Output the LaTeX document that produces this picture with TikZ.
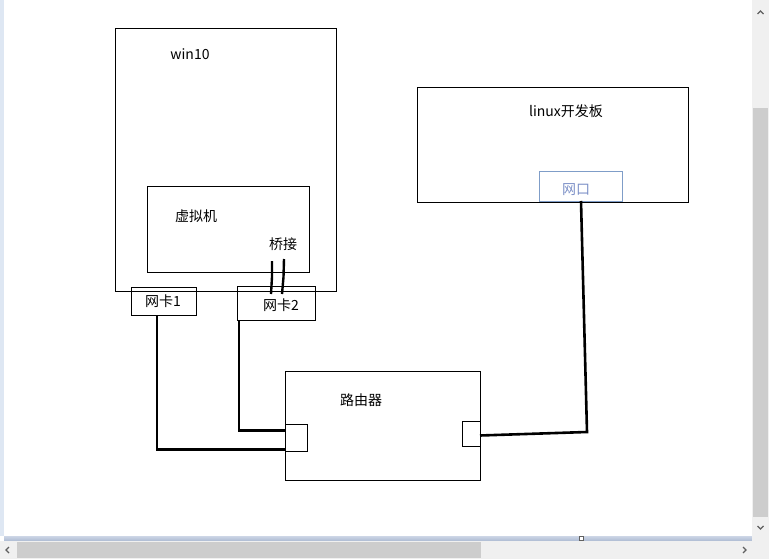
\documentclass[tikz,border=0pt]{standalone}
\usepackage{fontspec}
\setmainfont{Noto Sans CJK SC}
\usetikzlibrary{calc}
\definecolor{portblue}{RGB}{127,157,200}
\definecolor{porttext}{RGB}{125,145,200}
\definecolor{sbbg}{RGB}{240,240,240}
\definecolor{sbthumb}{RGB}{205,205,205}
\definecolor{sbarrow}{RGB}{96,96,96}
\definecolor{edgeblue}{RGB}{222,231,243}
\definecolor{bandtop}{RGB}{205,214,230}
\definecolor{bandbot}{RGB}{172,186,210}
\tikzset{
  box/.style={draw=black, line width=0.9pt, fill=white, inner sep=0pt, outer sep=0pt},
  openbox/.style={draw=black, line width=0.9pt, inner sep=0pt, outer sep=0pt},
  wire/.style={draw=black, line width=2.6pt},
  lbl/.style={inner sep=0pt, font=\fontsize{14}{16}\selectfont},
  arrowglyph/.style={draw=sbarrow, line width=1.2pt}
}
\begin{document}
\begin{tikzpicture}[x=1pt,y=-1pt]
\useasboundingbox (0,0) rectangle (769,559);
% canvas
\fill[white] (0,0) rectangle (769,559);
\fill[edgeblue] (0,0) rectangle (4,536);
% main boxes
\node[box, minimum width=221pt, minimum height=263pt] (win) at (225.5,159.5) {};
\node[box, minimum width=162pt, minimum height=86pt] (vm) at (228,229) {};
\node[openbox, minimum width=65pt, minimum height=28pt] (nicA) at (163.5,301) {};
\node[openbox, minimum width=78pt, minimum height=34pt] (nicB) at (276.5,303) {};
\node[box, minimum width=195pt, minimum height=109pt] (router) at (382.5,425.5) {};
\node[box, minimum width=22pt, minimum height=27pt] (lport) at (296,437.5) {};
\node[box, minimum width=18pt, minimum height=25pt] (rport) at (471,433.5) {};
\node[box, minimum width=271pt, minimum height=115pt] (linux) at (552.5,144.5) {};
\node[box, draw=portblue, minimum width=83pt, minimum height=30pt] (eth) at (580.5,186) {};
% labels
\node[lbl] (tWin) at (190,54) {win10};
\node[lbl] (tVm) at (196,216) {虚拟机};
\node[lbl] (tBridge) at (283,244) {桥接};
\node[lbl] (tNicA) at (163,301) {网卡1};
\node[lbl] (tNicB) at (281,305) {网卡2};
\node[lbl] (tRouter) at (361,400) {路由器};
\node[lbl] (tLinux) at (566,111) {linux开发板};
\node[lbl, text=porttext] (tEth) at (576,190) {网口};
% bridge wires
\coordinate (b1) at (272,261);
\coordinate (b2) at (284,259);
\draw[wire, line width=2.4pt] (b1) -- (272,277) -- ([xshift=-5.5pt,yshift=-8pt]nicB.north);
\draw[wire, line width=2.4pt] (b2) -- (283.5,277) -- ([xshift=5.5pt,yshift=-8pt]nicB.north);
% wires to router
\draw[wire] ([xshift=-6.5pt]nicA.south) |- ([yshift=1.5pt]lport.south west);
\draw[wire] ([xshift=1.5pt]nicB.south west) |- ([yshift=-6.5pt]lport.north west);
\draw[wire] ([xshift=0.5pt]eth.south) -- (587,432) -- ([yshift=-2pt]rport.east);
% horizontal band
\shade[top color=bandtop, bottom color=bandbot] (4,536) rectangle (752,541);
\draw[sbarrow, fill=white, line width=0.6pt] (579,536.5) rectangle (583,540.5);
% right scrollbar
\fill[sbbg] (752,0) rectangle (769,541);
\fill[sbthumb] (753,108) rectangle (768,517);
\draw[arrowglyph] (757.5,14) -- (760.5,11) -- (763.5,14);
\draw[arrowglyph] (757.5,526) -- (760.5,529) -- (763.5,526);
% bottom scrollbar
\fill[sbbg] (0,541) rectangle (769,559);
\fill[sbthumb] (17,542) rectangle (481,558);
\draw[arrowglyph] (9,547) -- (6,550) -- (9,553);
\draw[arrowglyph] (743,547) -- (746,550) -- (743,553);
\end{tikzpicture}
\end{document}
